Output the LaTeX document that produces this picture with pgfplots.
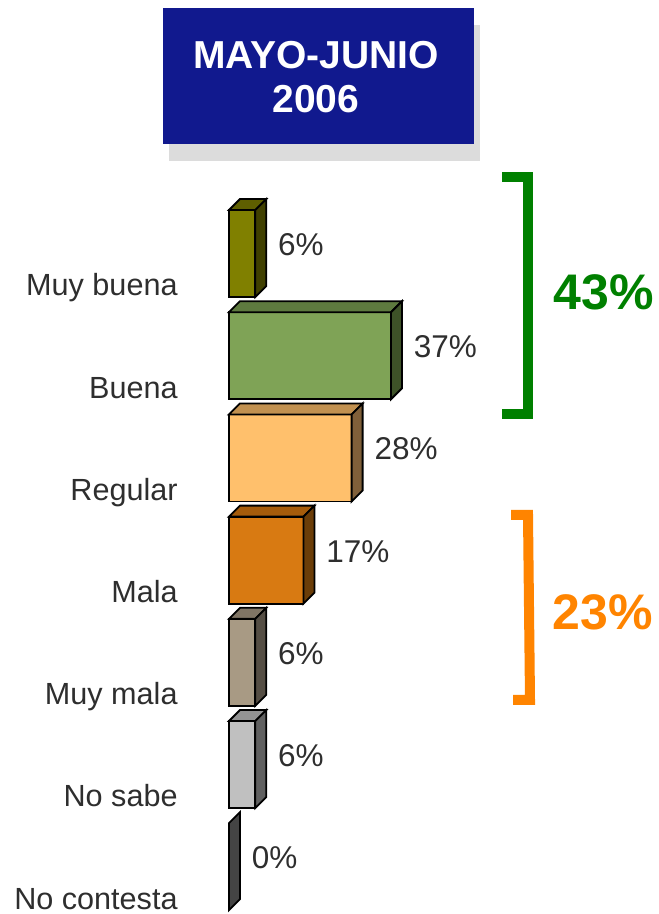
\documentclass[border=0pt]{standalone}
\usepackage{fontspec}
\setmainfont{Liberation Sans}
\usepackage{pgfplots}
\pgfplotsset{compat=1.18}

\definecolor{labelgray}{HTML}{2E2E2E}
\definecolor{titleblue}{RGB}{17,25,142}
\definecolor{shadowgray}{HTML}{DCDCDC}
\definecolor{brGreen}{RGB}{0,128,0}
\definecolor{brOrange}{RGB}{255,132,0}
% front / top / side of each bar
\definecolor{aF}{HTML}{808000}\definecolor{aT}{HTML}{5F5F00}\definecolor{aS}{HTML}{404000}
\definecolor{bF}{HTML}{7FA356}\definecolor{bT}{HTML}{5E7A3F}\definecolor{bS}{HTML}{3E5228}
\definecolor{cF}{HTML}{FFC06C}\definecolor{cT}{HTML}{C29150}\definecolor{cS}{HTML}{80603A}
\definecolor{dF}{HTML}{D87A12}\definecolor{dT}{HTML}{A65C0B}\definecolor{dS}{HTML}{6B3D08}
\definecolor{eF}{HTML}{A89A84}\definecolor{eT}{HTML}{807565}\definecolor{eS}{HTML}{554E44}
\definecolor{fF}{HTML}{C0C0C0}\definecolor{fT}{HTML}{939393}\definecolor{fS}{HTML}{606060}
\definecolor{gS}{HTML}{444444}

\begin{document}
\begin{tikzpicture}[font=\fontsize{15.75}{18}\selectfont]
\begin{axis}[
    at={(0,0)}, anchor=south west,
    scale only axis, width=329pt, height=457pt,
    xmin=-52.283, xmax=97.945,
    ymin=-2.4804, ymax=6.4628, y dir=reverse,
    axis line style={draw=none}, tick style={draw=none},
    xtick=\empty, ytick={0,...,6},
    yticklabels={Muy buena, Buena, Regular, Mala, Muy mala, No sabe, No contesta},
    yticklabel style={anchor=base east, inner sep=0pt, xshift=89pt, yshift=-21.2pt,
      text=labelgray, font=\fontsize{15.3}{18}\selectfont},
    /pgf/number format/assume math mode=true,
    clip=false,
    front/.style={xbar, bar shift=0pt, bar width=43.5pt, draw=black, line width=0.9pt,
      point meta=x, nodes near coords={\pgfmathprintnumber{\pgfplotspointmeta}\%},
      nodes near coords style={anchor=base west, inner sep=0pt, xshift=11pt, yshift=-1pt, text=labelgray}},
    face/.style={draw=black, line width=0.9pt, line join=miter},
]

% Muy buena 6
\addplot[front, fill=aF] coordinates {(6,0)};
\addplot[face, fill=aT] coordinates {(0,-0.4256) (6,-0.4256) (8.511,-0.5332) (2.511,-0.5332)} -- cycle;
\addplot[face, fill=aS] coordinates {(6,-0.4256) (8.511,-0.5332) (8.511,0.3180) (6,0.4256)} -- cycle;

% Buena 37
\addplot[front, fill=bF] coordinates {(37,1)};
\addplot[face, fill=bT] coordinates {(0,0.5744) (37,0.5744) (39.511,0.4668) (2.511,0.4668)} -- cycle;
\addplot[face, fill=bS] coordinates {(37,0.5744) (39.511,0.4668) (39.511,1.3180) (37,1.4256)} -- cycle;

% Regular 28
\addplot[front, fill=cF] coordinates {(28,2)};
\addplot[face, fill=cT] coordinates {(0,1.5744) (28,1.5744) (30.511,1.4668) (2.511,1.4668)} -- cycle;
\addplot[face, fill=cS] coordinates {(28,1.5744) (30.511,1.4668) (30.511,2.3180) (28,2.4256)} -- cycle;

% Mala 17
\addplot[front, fill=dF] coordinates {(17,3)};
\addplot[face, fill=dT] coordinates {(0,2.5744) (17,2.5744) (19.511,2.4668) (2.511,2.4668)} -- cycle;
\addplot[face, fill=dS] coordinates {(17,2.5744) (19.511,2.4668) (19.511,3.3180) (17,3.4256)} -- cycle;

% Muy mala 6
\addplot[front, fill=eF] coordinates {(6,4)};
\addplot[face, fill=eT] coordinates {(0,3.5744) (6,3.5744) (8.511,3.4668) (2.511,3.4668)} -- cycle;
\addplot[face, fill=eS] coordinates {(6,3.5744) (8.511,3.4668) (8.511,4.3180) (6,4.4256)} -- cycle;

% No sabe 6
\addplot[front, fill=fF] coordinates {(6,5)};
\addplot[face, fill=fT] coordinates {(0,4.5744) (6,4.5744) (8.511,4.4668) (2.511,4.4668)} -- cycle;
\addplot[face, fill=fS] coordinates {(6,4.5744) (8.511,4.4668) (8.511,5.3180) (6,5.4256)} -- cycle;

% No contesta 0
\addplot[front, fill=gS] coordinates {(0,6)};
\addplot[face, fill=gS] coordinates {(0,5.5744) (2.511,5.4668) (2.511,6.3180) (0,6.4256)} -- cycle;

\end{axis}

% title box and brackets, in pixel units of the reference
\begin{scope}[x=0.5pt, y=-0.5pt, shift={(0pt,457pt)}]
  \fill[shadowgray] (169,25) rectangle (480,161);
  \fill[titleblue] (163,8) rectangle (474,144);
  \node[anchor=base, text=white, font=\fontsize{19.5}{22}\selectfont\bfseries] at (316,69) {MAYO-JUNIO};
  \node[anchor=base, text=white, font=\fontsize{19.5}{22}\selectfont\bfseries] at (316,113) {2006};
  \draw[brGreen, line width=5pt, line join=miter] (502,177) -- (528,177) -- (528,414) -- (502,414);
  \draw[brOrange, line width=5pt, line join=miter] (511,515) -- (528,515) -- (530,700) -- (513,700);
  \node[anchor=base, text=brGreen, font=\fontsize{25}{28}\selectfont\bfseries] at (603.5,310) {43\%};
  \node[anchor=base, text=brOrange, font=\fontsize{25}{28}\selectfont\bfseries] at (603,630) {23\%};
\end{scope}
\pgfresetboundingbox
\path (0,0) rectangle (329pt,457pt);
\end{tikzpicture}
\end{document}
